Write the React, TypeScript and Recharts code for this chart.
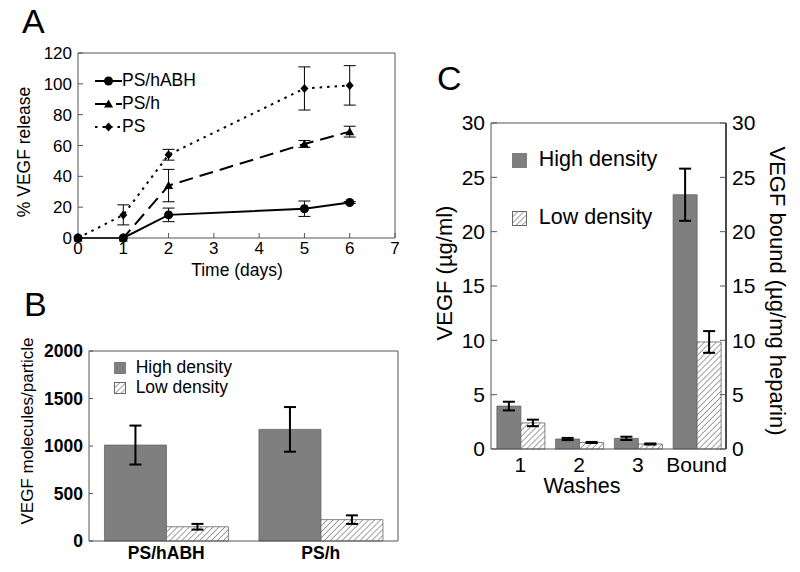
import React from "react";
import {
  LineChart,
  Line,
  BarChart,
  Bar,
  XAxis,
  YAxis,
  ErrorBar,
  ReferenceLine,
} from "recharts";

const FONT = '"Liberation Sans", Arial, sans-serif';

// Panel A: % VEGF release over time
const aDays = [0, 1, 2, 5, 6];
const aHABH = [0, 0, 15, 19, 23];
const aHABHErr = [0, 0, 4.4, 5, 0.6];
const aPSh = [0, 0, 34, 61, 69];
const aPShErr = [0, 0, 10.5, 2.2, 3.5];
const aPS = [0, 15, 54, 97, 99];
const aPSErr = [0, 6.5, 3.5, 14, 12.8];
const aXTicks = [0, 1, 2, 3, 4, 5, 6, 7];
const aYTicks = [0, 20, 40, 60, 80, 100, 120];

// Panel B: molecules per particle
const bCategories = ["PS/hABH", "PS/h"];
const bHigh = [1010, 1175];
const bHighErr = [205, 235];
const bLow = [150, 225];
const bLowErr = [30, 45];
const bYTicks = [0, 500, 1000, 1500, 2000];

// Panel C: washes and bound VEGF
const cCategories = ["1", "2", "3", "Bound"];
const cHigh = [3.95, 0.92, 0.98, 23.4];
const cHighErr = [0.4, 0.1, 0.15, 2.4];
const cLow = [2.4, 0.6, 0.46, 9.85];
const cLowErr = [0.3, 0.05, 0.05, 1.0];
const cYTicks = [0, 5, 10, 15, 20, 25, 30];

const aData = aDays.map((d, i) => ({
  day: d,
  habh: aHABH[i],
  habhErr: aHABHErr[i],
  psh: aPSh[i],
  pshErr: aPShErr[i],
  ps: aPS[i],
  psErr: aPSErr[i],
}));

const bData = bCategories.map((c, i) => ({
  name: c,
  high: bHigh[i],
  highErr: bHighErr[i],
  low: bLow[i],
  lowErr: bLowErr[i],
}));

const cData = cCategories.map((c, i) => ({
  name: c,
  high: cHigh[i],
  highErr: cHighErr[i],
  low: cLow[i],
  lowErr: cLowErr[i],
}));

const AXIS = "#555";
const GRAY = "#7f7f7f";
const HATCH = "#444";

function Circle({ cx, cy }: any) {
  return <circle cx={cx} cy={cy} r={4.5} fill="#000" />;
}
function Triangle({ cx, cy }: any) {
  return <path d={`M${cx},${cy - 4.5} L${cx + 4.5},${cy + 3.5} L${cx - 4.5},${cy + 3.5} Z`} fill="#000" />;
}
function Diamond({ cx, cy }: any) {
  return <path d={`M${cx},${cy - 4.5} L${cx + 4},${cy} L${cx},${cy + 4.5} L${cx - 4},${cy} Z`} fill="#000" />;
}

const aSeries = [
  { name: "PS/hABH", dash: undefined, Marker: Circle },
  { name: "PS/h", dash: "14 7", Marker: Triangle },
  { name: "PS", dash: "2.5 5", Marker: Diamond },
];

function Text({ x, y, size, children, rotate = 0, weight = "normal", center = true }: any) {
  return (
    <div
      style={{
        position: "absolute",
        left: x,
        top: y,
        fontFamily: FONT,
        fontSize: size,
        fontWeight: weight,
        lineHeight: 1,
        whiteSpace: "nowrap",
        color: "#000",
        transform: center ? `translate(-50%, -50%) rotate(${rotate}deg)` : undefined,
      }}
    >
      {children}
    </div>
  );
}

function HatchPattern({ id }: { id: string }) {
  return (
    <pattern id={id} width={4.2} height={4.2} patternUnits="userSpaceOnUse" patternTransform="rotate(45)">
      <rect width={4.2} height={4.2} fill="#fff" />
      <line x1={0} y1={0} x2={0} y2={4.2} stroke={HATCH} strokeWidth={1} />
    </pattern>
  );
}

function HatchSwatch({ id, size }: { id: string; size: number }) {
  return (
    <svg width={size} height={size} style={{ display: "block" }}>
      <defs>
        <HatchPattern id={id} />
      </defs>
      <rect x={0.5} y={0.5} width={size - 1} height={size - 1} fill={`url(#${id})`} stroke="#666" />
    </svg>
  );
}

function BarLegend({ x, y, gap, size, swatch, idSuffix }: any) {
  const rows = [
    { label: "High density", hatch: false },
    { label: "Low density", hatch: true },
  ];
  return (
    <div style={{ position: "absolute", left: x, top: y, fontFamily: FONT, fontSize: size }}>
      {rows.map((r) => (
        <div key={r.label} style={{ display: "flex", alignItems: "center", height: gap }}>
          {r.hatch ? (
            <HatchSwatch id={`legHatch${idSuffix}`} size={swatch} />
          ) : (
            <div style={{ width: swatch, height: swatch, background: GRAY }} />
          )}
          <span style={{ marginLeft: size * 0.55, lineHeight: 1 }}>{r.label}</span>
        </div>
      ))}
    </div>
  );
}

function PanelA() {
  const tick = { fontSize: 17, fill: "#000", fontFamily: FONT };
  return (
    <div style={{ position: "absolute", left: 0, top: 0 }}>
      <LineChart width={410} height={290} data={aData} margin={{ top: 52, right: 14, left: 0, bottom: 0 }}>
        <XAxis
          xAxisId="main"
          dataKey="day"
          type="number"
          domain={[0, 7]}
          ticks={aXTicks}
          height={52}
          stroke={AXIS}
          tick={tick}
          tickSize={-5}
          tickMargin={9}
        />
        <XAxis
          xAxisId="top"
          dataKey="day"
          orientation="top"
          type="number"
          domain={[0, 7]}
          ticks={aXTicks}
          height={1}
          stroke={AXIS}
          tick={false}
          tickSize={-5}
        />
        <YAxis
          yAxisId="main"
          domain={[0, 120]}
          ticks={aYTicks}
          width={78}
          stroke={AXIS}
          tick={tick}
          tickSize={-5}
          tickMargin={11}
        />
        <YAxis
          yAxisId="right"
          orientation="right"
          domain={[0, 120]}
          ticks={aYTicks}
          width={1}
          stroke={AXIS}
          tick={false}
          tickSize={-5}
        />
        <Line
          xAxisId="main"
          yAxisId="main"
          dataKey="ps"
          stroke="#000"
          strokeWidth={2}
          strokeDasharray="2.5 5"
          dot={(p: any) => <Diamond key={`ps${p.index}`} cx={p.cx} cy={p.cy} />}
          isAnimationActive={false}
        >
          <ErrorBar dataKey="psErr" width={6} stroke="#000" strokeWidth={1} direction="y" />
        </Line>
        <Line
          xAxisId="top"
          yAxisId="right"
          dataKey="psh"
          stroke="#000"
          strokeWidth={2}
          strokeDasharray="14 7"
          dot={(p: any) => <Triangle key={`psh${p.index}`} cx={p.cx} cy={p.cy} />}
          isAnimationActive={false}
        >
          <ErrorBar dataKey="pshErr" width={6} stroke="#000" strokeWidth={1} direction="y" />
        </Line>
        <Line
          xAxisId="main"
          yAxisId="right"
          dataKey="habh"
          stroke="#000"
          strokeWidth={2}
          dot={(p: any) => <Circle key={`habh${p.index}`} cx={p.cx} cy={p.cy} />}
          isAnimationActive={false}
        >
          <ErrorBar dataKey="habhErr" width={6} stroke="#000" strokeWidth={1} direction="y" />
        </Line>
      </LineChart>
      <div style={{ position: "absolute", left: 95, top: 69, fontFamily: FONT, fontSize: 17.5 }}>
        {aSeries.map((s) => (
          <div key={s.name} style={{ display: "flex", alignItems: "center", height: 23 }}>
            <svg width={27} height={12} style={{ display: "block" }}>
              <line x1={0} y1={6} x2={27} y2={6} stroke="#000" strokeWidth={2} strokeDasharray={s.dash} />
              <s.Marker cx={13.5} cy={6} />
            </svg>
            <span style={{ lineHeight: 1 }}>{s.name}</span>
          </div>
        ))}
      </div>
      <Text x={25} y={152} size={17.5} rotate={-90}>% VEGF release</Text>
      <Text x={237} y={271} size={17.5}>Time (days)</Text>
    </div>
  );
}

function PanelB() {
  const tick = { fontSize: 17.5, fill: "#000", fontFamily: FONT, fontWeight: "bold" };
  return (
    <div style={{ position: "absolute", left: 0, top: 300 }}>
      <BarChart
        width={410}
        height={272}
        data={bData}
        margin={{ top: 50, right: 11, left: 0, bottom: 0 }}
        barCategoryGap="10%"
        barGap={0}
      >
        <defs>
          <HatchPattern id="hatchB" />
        </defs>
        <XAxis
          xAxisId="main"
          dataKey="name"
          height={31}
          stroke={AXIS}
          tick={tick}
          tickLine={false}
          tickSize={0}
          tickMargin={6}
        />
        <XAxis
          xAxisId="top"
          orientation="top"
          type="number"
          domain={[0, 2]}
          ticks={[1]}
          height={1}
          stroke={AXIS}
          tick={false}
          tickSize={-5}
        />
        <YAxis
          yAxisId="main"
          domain={[0, 2000]}
          ticks={bYTicks}
          width={89}
          stroke={AXIS}
          tick={tick}
          tickSize={-4}
          tickMargin={10}
        />
        <YAxis
          yAxisId="right"
          orientation="right"
          domain={[0, 2000]}
          ticks={bYTicks}
          width={1}
          stroke={AXIS}
          tick={false}
          tickSize={-5}
        />
        <Bar xAxisId="main" yAxisId="main" dataKey="high" fill={GRAY} stroke="#666" strokeWidth={0.8} isAnimationActive={false}>
          <ErrorBar dataKey="highErr" width={6} stroke="#000" strokeWidth={2} />
        </Bar>
        <Bar xAxisId="main" yAxisId="right" dataKey="low" fill="url(#hatchB)" stroke="#666" strokeWidth={0.8} isAnimationActive={false}>
          <ErrorBar dataKey="lowErr" width={6} stroke="#000" strokeWidth={2} />
        </Bar>
      </BarChart>
      <BarLegend x={114} y={58} gap={20} size={17.5} swatch={12} idSuffix="B" />
      <Text x={27} y={131} size={17} rotate={-90}>VEGF molecules/particle</Text>
    </div>
  );
}

function PanelC() {
  const tick = { fontSize: 21, fill: "#000", fontFamily: FONT };
  return (
    <div style={{ position: "absolute", left: 420, top: 50 }}>
      <BarChart
        width={380}
        height={522}
        data={cData}
        margin={{ top: 72, right: 0, left: 0, bottom: 83 }}
        barCategoryGap="10%"
        barGap={0}
      >
        <defs>
          <HatchPattern id="hatchC" />
        </defs>
        <XAxis
          xAxisId="main"
          dataKey="name"
          height={40}
          stroke={AXIS}
          tick={tick}
          tickLine={false}
          tickSize={0}
          tickMargin={8}
        />
        <XAxis
          xAxisId="frame"
          orientation="top"
          type="number"
          domain={[0, 4]}
          ticks={[1, 2]}
          height={1}
          stroke={AXIS}
          tick={false}
          tickSize={-6}
        />
        <YAxis
          yAxisId="left"
          domain={[0, 30]}
          ticks={cYTicks}
          width={71}
          stroke={AXIS}
          tick={tick}
          tickSize={-6}
          tickMargin={12}
        />
        <YAxis
          yAxisId="right"
          orientation="right"
          domain={[0, 30]}
          ticks={cYTicks}
          width={74}
          stroke={AXIS}
          tick={tick}
          tickSize={-6}
          tickMargin={12}
        />
        <Bar xAxisId="main" yAxisId="left" dataKey="high" fill={GRAY} stroke="#666" strokeWidth={0.8} isAnimationActive={false}>
          <ErrorBar dataKey="highErr" width={6} stroke="#000" strokeWidth={2} />
        </Bar>
        <Bar xAxisId="main" yAxisId="right" dataKey="low" fill="url(#hatchC)" stroke="#666" strokeWidth={0.8} isAnimationActive={false}>
          <ErrorBar dataKey="lowErr" width={6} stroke="#000" strokeWidth={2} />
        </Bar>
        <ReferenceLine xAxisId="frame" yAxisId="left" x={3} stroke="#000" strokeWidth={1.5} />
      </BarChart>
      <BarLegend x={92} y={81} gap={58} size={21.5} swatch={15} idSuffix="C" />
      <Text x={25} y={223} size={22} rotate={-90}>VEGF (µg/ml)</Text>
      <Text x={357} y={241} size={22} rotate={90}>VEGF bound (µg/mg heparin)</Text>
      <Text x={162} y={437} size={21.5}>Washes</Text>
    </div>
  );
}

export default function App() {
  return (
    <div
      style={{
        position: "absolute",
        left: 0,
        top: 0,
        width: 800,
        height: 572,
        background: "#fff",
        overflow: "hidden",
      }}
    >
      <PanelA />
      <PanelB />
      <PanelC />
      <Text x={22} y={4} size={34} center={false}>A</Text>
      <Text x={24} y={287} size={34} center={false}>B</Text>
      <Text x={437} y={61} size={34} center={false}>C</Text>
    </div>
  );
}
